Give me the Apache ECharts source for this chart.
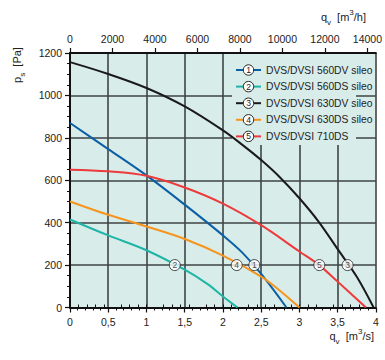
<!DOCTYPE html>
<html><head><meta charset="utf-8">
<script src="https://cdn.jsdelivr.net/npm/echarts@6/dist/echarts.min.js"></script>
<style>html,body{margin:0;padding:0;background:#fff}#c{width:385px;height:360px}</style>
</head><body><div id="c"></div>
<script>
// ---- data ----
const seriesNames = ['DVS/DVSI 560DV sileo','DVS/DVSI 560DS sileo','DVS/DVSI 630DV sileo','DVS/DVSI 630DS sileo','DVS/DVSI 710DS'];
const seriesNumbers = ['1','2','3','4','5'];
const q1 = [0, 0.5, 1, 1.5, 2, 2.25, 2.5, 2.83];
const p1 = [870, 747, 623, 485, 340, 260, 158, 0];
const q2 = [0, 0.5, 1, 1.5, 1.8, 2.0, 2.19];
const p2 = [415, 340, 270, 178, 110, 52, 0];
const q3 = [0, 0.5, 1, 1.5, 2, 2.25, 2.5, 2.75, 3, 3.25, 3.5, 3.75, 3.97];
const p3 = [1157, 1101, 1035, 948, 835, 768, 695, 612, 515, 405, 275, 145, 0];
const q4 = [0, 0.5, 1, 1.5, 2, 2.5, 2.75, 3.0];
const p4 = [500, 437, 382, 323, 245, 146, 78, 0];
const q5 = [0, 0.5, 1, 1.5, 2, 2.5, 3, 3.25, 3.5, 3.87];
const p5 = [650, 642, 621, 566, 490, 388, 264, 202, 122, 0];
const markerQ = [2.41, 1.37, 3.63, 2.18, 3.26];
const markerP = [200, 200, 200, 200, 200];
const bottomTickLabels = ['0','0,5','1','1,5','2','2,5','3','3,5','4'];
const topTickValues = [0, 2000, 4000, 6000, 8000, 10000, 12000, 14000];
const topTickLabels = ['0','2000','4000','6000','8000','10000','12000','14000'];
const topMinorTickValues = [];
for (let v = 400; v < 14400; v += 400) if (v % 2000 !== 0) topMinorTickValues.push(v);
const yTickLabels = ['0','200','400','600','800','1000','1200'];

// ---- styles ----
const FONT = 'Liberation Sans, Arial, sans-serif';
const BG = '#d8ecea';
const GRIDC = '#3f4545';
const AXC = '#111';
const TXT = '#222';
const colors = ['#0b5fa5', '#1fb5a6', '#1a1a1a', '#f7941d', '#ee3a3a'];

const chart = echarts.init(document.getElementById('c'), null, {renderer: 'svg'});
const curves = [[q1,p1],[q2,p2],[q3,p3],[q4,p4],[q5,p5]];
const series = curves.map(([q,p], i) => ({
  name: seriesNames[i], type: 'line', xAxisIndex: 0, yAxisIndex: 0,
  data: q.map((x, j) => [x, p[j]]),
  smooth: 0.35, showSymbol: false, symbol: 'none',
  lineStyle: {color: colors[i], width: 2}, itemStyle: {color: colors[i]},
  z: 3, silent: true, animation: false
}));
series.push({
  type: 'scatter', xAxisIndex: 0, yAxisIndex: 0,
  data: markerQ.map((x, i) => ({value: [x, markerP[i]], label: {formatter: seriesNumbers[i]}})),
  symbol: 'circle', symbolSize: 11,
  itemStyle: {color: '#fff', borderColor: '#222', borderWidth: 1},
  label: {show: true, position: 'inside', fontSize: 8.5, color: TXT, fontFamily: FONT},
  z: 5, silent: true, animation: false
});

const legendChildren = [{
  type: 'rect', shape: {x: 232, y: 54, width: 124, height: 91}, style: {fill: BG}, z: 1
}];
seriesNames.forEach((name, i) => {
  const y = 70 + i * 16.6;
  legendChildren.push(
    {type: 'line', shape: {x1: 236, y1: y, x2: 261, y2: y}, style: {stroke: colors[i], lineWidth: 2}, z: 10},
    {type: 'circle', shape: {cx: 248.5, cy: y, r: 5.2}, style: {fill: '#fff', stroke: '#222', lineWidth: 1}, z: 11},
    {type: 'text', x: 248.5, y: y, style: {text: seriesNumbers[i], align: 'center', verticalAlign: 'middle', fontSize: 8.5, fill: TXT, fontFamily: FONT}, z: 12},
    {type: 'text', x: 266, y: y, style: {text: name, align: 'left', verticalAlign: 'middle', fontSize: 10.3, fill: TXT, fontFamily: FONT}, z: 12}
  );
});
const rich = {
  i: {fontSize: 11, lineHeight: 18, fontFamily: FONT, color: TXT},
  s: {fontSize: 8, verticalAlign: 'bottom', fontFamily: FONT, color: TXT},
  p: {fontSize: 8, verticalAlign: 'top', fontFamily: FONT, color: TXT}
};
legendChildren.push(
  {type: 'text', x: 366, y: 17, style: {text: '{i|q}{s|v}{i|  [m}{p|3}{i|/h]}', rich, align: 'right', verticalAlign: 'middle', fill: TXT}, z: 12},
  {type: 'text', x: 374, y: 336, style: {text: '{i|q}{s|v}{i|  [m}{p|3}{i|/s]}', rich, align: 'right', verticalAlign: 'middle', fill: TXT}, z: 12},
  {type: 'text', x: 17, y: 65, rotation: Math.PI / 2, style: {text: '{i|p}{s|s}{i|  [Pa]}', rich, align: 'center', verticalAlign: 'middle', fill: TXT}, z: 12}
);

const axisLabelStyle = {fontSize: 10.5, color: TXT, fontFamily: FONT};
chart.setOption({
  animation: false,
  grid: {left: 70, right: 8, top: 53, bottom: 52.5, show: true, backgroundColor: BG, borderWidth: 0},
  xAxis: [
    {type: 'value', position: 'bottom', min: 0, max: 4, interval: 0.5,
     axisLine: {show: true, onZero: false, lineStyle: {color: AXC, width: 2}},
     axisTick: {show: true, length: 5, lineStyle: {color: AXC, width: 1.2}},
     minorTick: {show: true, splitNumber: 5, length: 3, lineStyle: {color: AXC, width: 1}},
     splitLine: {show: true, lineStyle: {color: GRIDC, width: 1.6}},
     axisLabel: Object.assign({margin: 9, formatter: v => bottomTickLabels[Math.round(v / 0.5)]}, axisLabelStyle)},
    {type: 'value', position: 'top', min: 0, max: 14400,
     axisLine: {show: true, onZero: false, lineStyle: {color: AXC, width: 2}},
     axisTick: {show: true, length: 5, customValues: topTickValues, lineStyle: {color: AXC, width: 1.2}},
     splitLine: {show: false},
     axisLabel: Object.assign({margin: 9, customValues: topTickValues, formatter: v => topTickLabels[topTickValues.indexOf(v)] || ''}, axisLabelStyle)},
    {type: 'value', position: 'top', min: 0, max: 14400,
     axisLine: {show: false},
     axisTick: {show: true, length: 3, customValues: topMinorTickValues, lineStyle: {color: AXC, width: 1}},
     splitLine: {show: false},
     axisLabel: {show: false}}
  ],
  yAxis: [{type: 'value', min: 0, max: 1200, interval: 200,
     axisLine: {show: true, onZero: false, lineStyle: {color: AXC, width: 2}},
     axisTick: {show: true, length: 5, lineStyle: {color: AXC, width: 1.2}},
     minorTick: {show: true, splitNumber: 4, length: 3, lineStyle: {color: AXC, width: 1}},
     splitLine: {show: true, lineStyle: {color: GRIDC, width: 1.6}},
     axisLabel: Object.assign({margin: 8, formatter: v => yTickLabels[Math.round(v / 200)]}, axisLabelStyle)}],
  graphic: {elements: legendChildren},
  series
});
</script></body></html>
